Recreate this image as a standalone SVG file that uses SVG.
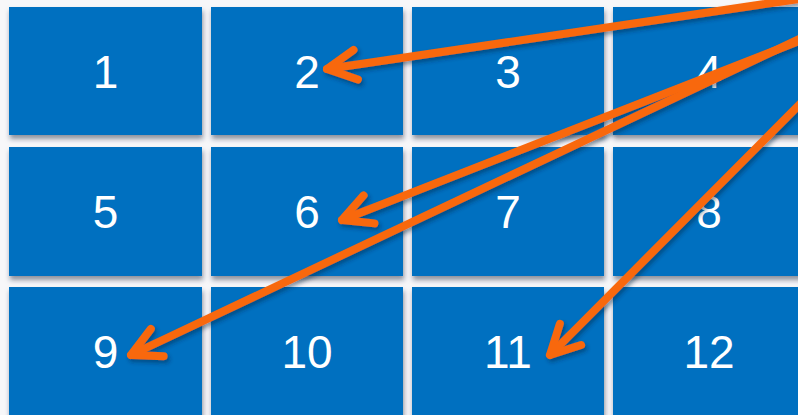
<svg xmlns="http://www.w3.org/2000/svg" width="798" height="415" viewBox="0 0 798 415">
  <defs>
    <filter id="tileShadow" x="-10%" y="-10%" width="120%" height="125%">
      <feDropShadow dx="1" dy="4" stdDeviation="2.5" flood-color="#1a2540" flood-opacity="0.5"/>
    </filter>
    <filter id="arrowShadow" x="-10%" y="-10%" width="120%" height="120%">
      <feDropShadow dx="2" dy="3" stdDeviation="2" flood-color="#102040" flood-opacity="0.45"/>
    </filter>
    <marker id="head" markerUnits="userSpaceOnUse" markerWidth="80" markerHeight="80" refX="0" refY="0" viewBox="-40 -40 80 80" orient="auto" overflow="visible">
      <path d="M-29,-15 L0,0 L-29,15" fill="none" stroke="#F8680E" stroke-width="8" stroke-linecap="round" stroke-linejoin="round"/>
    </marker>
  </defs>
  <style>
    .tile { fill: #0070C0; filter: url(#tileShadow); }
    .lbl { fill: #ffffff; font-family: "Liberation Sans", Arial, sans-serif; font-size: 46px; text-anchor: middle; }
    .arr { fill: none; stroke: #F8680E; stroke-width: 8; stroke-linecap: round; marker-end: url(#head); }
  </style>
  <rect x="0" y="0" width="798" height="415" fill="#f7f7f9"/>

  <g id="tile1"><rect class="tile" x="9" y="7" width="193" height="128"/><text class="lbl" x="105.5" y="88">1</text></g>
  <g id="tile2"><rect class="tile" x="211" y="7" width="192" height="128"/><text class="lbl" x="307" y="88">2</text></g>
  <g id="tile3"><rect class="tile" x="412" y="7" width="192" height="128"/><text class="lbl" x="508" y="88">3</text></g>
  <g id="tile4"><rect class="tile" x="613" y="7" width="200" height="128"/><text class="lbl" x="709" y="88">4</text></g>

  <g id="tile5"><rect class="tile" x="9" y="147" width="193" height="129"/><text class="lbl" x="105.5" y="228">5</text></g>
  <g id="tile6"><rect class="tile" x="211" y="147" width="192" height="129"/><text class="lbl" x="307" y="228">6</text></g>
  <g id="tile7"><rect class="tile" x="412" y="147" width="192" height="129"/><text class="lbl" x="508" y="228">7</text></g>
  <g id="tile8"><rect class="tile" x="613" y="147" width="200" height="129"/><text class="lbl" x="709" y="228">8</text></g>

  <g id="tile9"><rect class="tile" x="9" y="287" width="193" height="140"/><text class="lbl" x="105.5" y="368">9</text></g>
  <g id="tile10"><rect class="tile" x="211" y="287" width="192" height="140"/><text class="lbl" x="307" y="368">10</text></g>
  <g id="tile11"><rect class="tile" x="412" y="287" width="192" height="140"/><text class="lbl" x="508" y="368">11</text></g>
  <g id="tile12"><rect class="tile" x="613" y="287" width="200" height="140"/><text class="lbl" x="709" y="368">12</text></g>

  <g id="connectors" filter="url(#arrowShadow)">
    <path class="arr" d="M812,-3 L327,69"/>
    <path class="arr" d="M812,36 L342,220"/>
    <path class="arr" d="M812,33 L131,355"/>
    <path class="arr" d="M812,92 L550,355"/>
  </g>
</svg>
